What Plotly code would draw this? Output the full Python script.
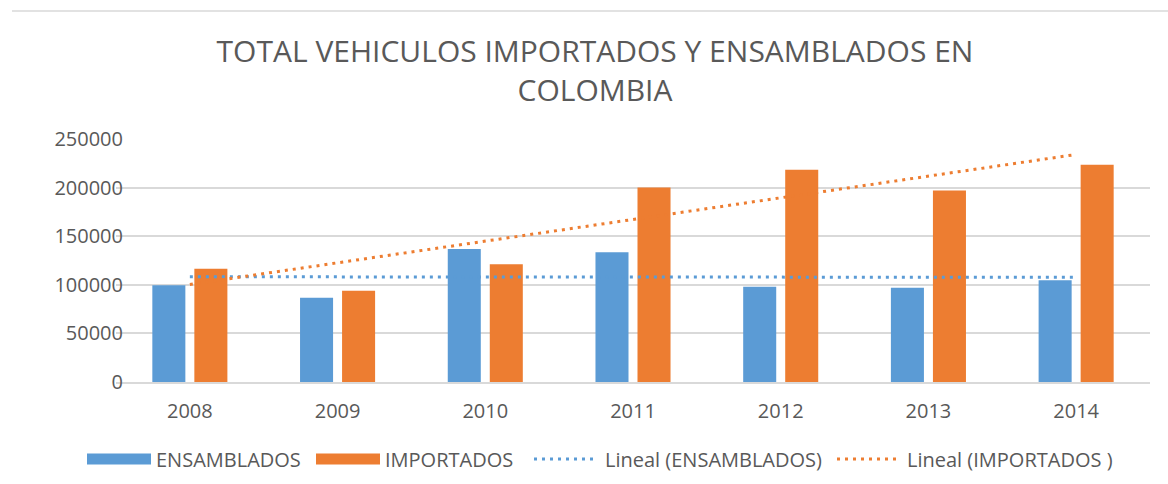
import numpy as np
import plotly.graph_objects as go

years = ["2008", "2009", "2010", "2011", "2012", "2013", "2014"]
ensamblados = [99500, 86600, 136800, 133400, 97900, 96900, 104800]
importados = [116600, 93800, 121100, 200200, 218300, 197100, 223400]
y_ticks = [0, 50000, 100000, 150000, 200000, 250000]

title_text = "TOTAL VEHICULOS IMPORTADOS Y ENSAMBLADOS EN<br>COLOMBIA"
legend_labels = ["ENSAMBLADOS", "IMPORTADOS", "Lineal (ENSAMBLADOS)", "Lineal (IMPORTADOS )"]

BLUE = "#5B9BD5"
ORANGE = "#ED7D31"
TEXT = "#595959"
GRID = "#D9D9D9"
FONT = "Open Sans"

W, H = 1168, 484
L, R, T, B = 116, 1150, 139, 382

def px(x):
    return (x - L) / (R - L)

def py(y):
    return (B - y) / (B - T)

# linear trendlines (least squares, as in Excel)
xi = np.arange(1, len(years) + 1)
ens_fit = np.polyval(np.polyfit(xi, ensamblados, 1), xi)
imp_fit = np.polyval(np.polyfit(xi, importados, 1), xi)

fig = go.Figure()
fig.add_trace(go.Bar(x=years, y=ensamblados, name=legend_labels[0],
                     marker=dict(color=BLUE, line=dict(width=0))))
fig.add_trace(go.Bar(x=years, y=importados, name=legend_labels[1],
                     marker=dict(color=ORANGE, line=dict(width=0))))
fig.add_trace(go.Scatter(x=years, y=ens_fit, mode="lines", name=legend_labels[2],
                         line=dict(color=BLUE, width=3, dash="3px,5px")))
fig.add_trace(go.Scatter(x=years, y=imp_fit, mode="lines", name=legend_labels[3],
                         line=dict(color=ORANGE, width=3, dash="3px,5px")))

shapes = []
annotations = []
# top border of chart frame
shapes.append(dict(type="line", xref="paper", yref="paper",
                   x0=px(12), x1=px(1168), y0=py(11), y1=py(11),
                   line=dict(color=GRID, width=1.5)))

# manual legend
leg_y = 459
items = [
    ("rect", BLUE, 87, 151, 158, legend_labels[0]),
    ("rect", ORANGE, 316, 380, 387, legend_labels[1]),
    ("line", BLUE, 534, 596, 607, legend_labels[2]),
    ("line", ORANGE, 837, 897, 909, legend_labels[3]),
]
for kind, color, x0, x1, tx, label in items:
    if kind == "rect":
        shapes.append(dict(type="rect", xref="paper", yref="paper",
                           x0=px(x0), x1=px(x1), y0=py(leg_y + 5.5), y1=py(leg_y - 5.5),
                           fillcolor=color, line=dict(width=0)))
    else:
        shapes.append(dict(type="line", xref="paper", yref="paper",
                           x0=px(x0), x1=px(x1), y0=py(leg_y), y1=py(leg_y),
                           line=dict(color=color, width=3, dash="3px,5px")))
    annotations.append(dict(text=label, xref="paper", yref="paper",
                            x=px(tx - 4), y=py(leg_y), xanchor="left", yanchor="middle",
                            showarrow=False, font=dict(family=FONT, size=20, color=TEXT)))

fig.update_layout(
    width=W, height=H,
    margin=dict(l=L, r=W - R, t=T, b=H - B, pad=0),
    paper_bgcolor="white", plot_bgcolor="white",
    title=dict(text=title_text, x=595 / W, xanchor="center", xref="container",
               y=1 - 62 / H, yanchor="middle",
               font=dict(family=FONT, size=30, color=TEXT)),
    barmode="group", bargap=0.431, bargroupgap=0.214,
    showlegend=False,
    shapes=shapes, annotations=annotations,
    font=dict(family=FONT, color=TEXT),
)
fig.update_xaxes(showgrid=False, showline=True, linecolor=GRID, linewidth=1.5,
                 ticks="", tickfont=dict(family=FONT, size=20, color=TEXT),
                 ticklabelstandoff=10)
fig.update_yaxes(range=[0, 250000], tickvals=y_ticks, ticktext=[str(v) for v in y_ticks],
                 showgrid=True, gridcolor=GRID, gridwidth=1.5, zeroline=False,
                 showline=False, ticks="", tickfont=dict(family=FONT, size=20, color=TEXT),
                 ticklabelstandoff=-8)

fig.write_html("out.html", config={"displayModeBar": False},
               post_script="document.body.style.margin='0';")
